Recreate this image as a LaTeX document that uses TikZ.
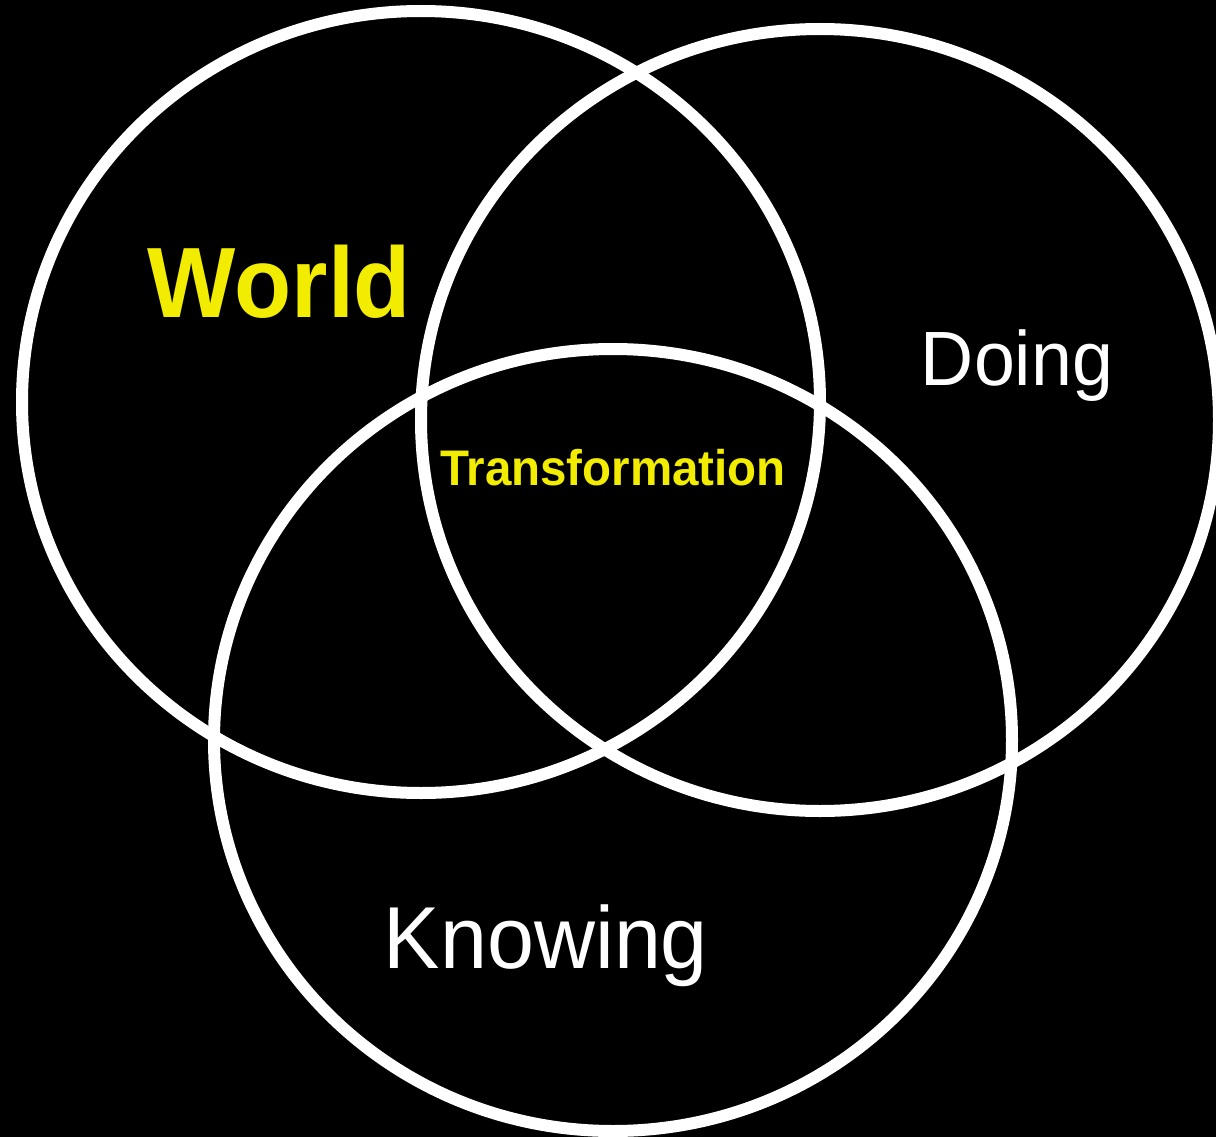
\documentclass[tikz,border=0pt]{standalone}
\usepackage{fontspec}
\setmainfont{Liberation Sans}
\definecolor{vennyellow}{RGB}{242,236,0}
\tikzset{
  ring/.style={draw=white,line width=12pt},
  lbl/.style={anchor=base,inner sep=0pt}
}
\begin{document}
\begin{tikzpicture}[x=1pt,y=-1pt,line cap=round,line join=round]
        \fill[black] (0,0) rectangle (1216,1137);
        \clip (0,0) rectangle (1216,1137);
        \draw[ring] (421,402) ellipse (399 and 391);
        \draw[ring] (820,420) ellipse (399 and 391);
        \draw[ring] (613,740) ellipse (399 and 391);
        \node[lbl,text=vennyellow,xscale=0.935] (world) at (279.5,317) {\fontsize{100}{108}\selectfont\bfseries World};
        \node[lbl,text=white,xscale=0.955] (doing) at (1017,385) {\fontsize{77}{84}\selectfont Doing};
        \node[lbl,text=vennyellow,xscale=0.95] (transformation) at (613,485) {\fontsize{50}{56}\selectfont\bfseries Transformation};
        \node[lbl,text=white,xscale=0.96] (knowing) at (546,968) {\fontsize{88}{96}\selectfont Knowing};
      \end{tikzpicture}
\end{document}
